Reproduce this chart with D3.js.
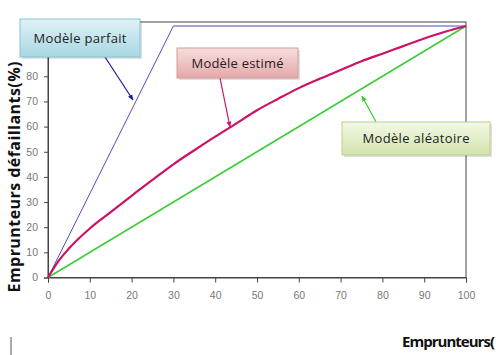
<!DOCTYPE html>
<html>
<head>
<meta charset="utf-8">
<script src="https://cdn.jsdelivr.net/npm/d3@7"></script>
<style>
  html, body { margin: 0; padding: 0; background: #fff; }
  svg { display: block; }
</style>
</head>
<body>
<div id="chart"></div>
<script>
// Données (courbe CAP)
const pctBorrowers = [0, 2.5, 5, 10, 15, 20, 25, 30, 35, 40, 45, 50, 55, 60, 65, 70, 75, 80, 85, 90, 95, 100];
const estimatedModel = [0, 6.5, 11.5, 19.5, 26, 32.5, 38.8, 45, 50.6, 56, 61.2, 66.5, 71, 75.3, 79, 82.5, 86, 89, 92, 95, 97.7, 100];
const perfectX = [0, 30, 100];
const perfectY = [0, 100, 100];
const randomX = [0, 100];
const randomY = [0, 100];
const tickValues = [0, 10, 20, 30, 40, 50, 60, 70, 80, 90, 100];

const width = 496, height = 355;
const svg = d3.select("#chart").append("svg")
    .attr("width", width)
    .attr("height", height);

const x = d3.scaleLinear().domain([0, 100]).range([48, 466]);
const y = d3.scaleLinear().domain([0, 100]).range([277.5, 26]);

const defs = svg.append("defs");
function grad(id, top, bottom) {
    const g = defs.append("linearGradient").attr("id", id)
        .attr("x1", 0).attr("y1", 0).attr("x2", 0).attr("y2", 1);
    g.append("stop").attr("offset", "0%").attr("stop-color", top);
    g.append("stop").attr("offset", "100%").attr("stop-color", bottom);
}
grad("gBlue", "#dff2f6", "#a8d7e2");
grad("gPink", "#f8dede", "#e4a8a8");
grad("gGreen", "#f3f8e6", "#d2e4ad");

function marker(id, color) {
    defs.append("marker").attr("id", id)
        .attr("viewBox", "0 0 10 10").attr("refX", 9).attr("refY", 5)
        .attr("markerWidth", 5).attr("markerHeight", 5)
        .attr("orient", "auto")
        .append("path").attr("d", "M0,1 L10,5 L0,9 Z").attr("fill", color);
}
marker("aBlue", "#1c1c8e");
marker("aPink", "#cc1166");
marker("aGreen", "#33cc33");

// cadre
svg.append("rect")
    .attr("x", x(0)).attr("y", 22)
    .attr("width", x(100) - x(0)).attr("height", y(0) - 22)
    .attr("fill", "none").attr("stroke", "#444").attr("stroke-width", 1);

// axes
const xAxis = svg.append("g")
    .attr("transform", `translate(0,${y(0)})`)
    .call(d3.axisBottom(x).tickValues(tickValues).tickSize(5).tickPadding(9));
const yAxis = svg.append("g")
    .attr("transform", `translate(${x(0)},0)`)
    .call(d3.axisLeft(y).tickValues(tickValues).tickSize(4).tickPadding(6));
[xAxis, yAxis].forEach(a => {
    a.select(".domain").attr("stroke", "#444");
    a.selectAll(".tick line").attr("stroke", "#444");
    a.selectAll(".tick text")
        .attr("fill", "#777")
        .style("font-family", "'Liberation Sans', Arial, sans-serif")
        .style("font-size", "10.5px");
});

const line = d3.line().x(d => x(d[0])).y(d => y(d[1]));

// modèle parfait
svg.append("path")
    .attr("d", line(perfectX.slice(1).map((v, i) => [v, perfectY[i + 1]])))
    .attr("fill", "none").attr("stroke", "#a4a4e4").attr("stroke-width", 2.2);
svg.append("path")
    .attr("d", line(perfectX.slice(0, 2).map((v, i) => [v, perfectY[i]])))
    .attr("fill", "none").attr("stroke", "#5050b8").attr("stroke-width", 1);

// modèle aléatoire
svg.append("path")
    .attr("d", line(randomX.map((v, i) => [v, randomY[i]])))
    .attr("fill", "none").attr("stroke", "#3ccc3c").attr("stroke-width", 1.6);

// modèle estimé
svg.append("path")
    .attr("d", line.curve(d3.curveMonotoneX)(pctBorrowers.map((v, i) => [v, estimatedModel[i]])))
    .attr("fill", "none").attr("stroke", "#cc1166").attr("stroke-width", 2.2);

// bulles
function callout(bx, by, bw, bh, fill, stroke, label, tw, ax1, ay1, ax2, ay2, color, mk) {
    svg.append("line")
        .attr("x1", ax1).attr("y1", ay1).attr("x2", ax2).attr("y2", ay2)
        .attr("stroke", color).attr("stroke-width", 1.2)
        .attr("marker-end", `url(#${mk})`);
    svg.append("rect")
        .attr("x", bx + 2).attr("y", by + 2).attr("width", bw).attr("height", bh)
        .attr("fill", "#000").attr("opacity", 0.12);
    svg.append("rect")
        .attr("x", bx).attr("y", by).attr("width", bw).attr("height", bh)
        .attr("fill", fill).attr("stroke", stroke).attr("stroke-width", 1);
    svg.append("text")
        .attr("x", bx + bw / 2).attr("y", by + bh / 2 + 4.5)
        .attr("text-anchor", "middle")
        .attr("fill", "#222")
        .attr("textLength", tw)
        .attr("lengthAdjust", "spacing")
        .style("font-family", "'Open Sans', sans-serif")
        .style("font-size", "13px")
        .text(label);
}
callout(20, 19, 120, 38, "url(#gBlue)", "#86c3d3", "Modèle parfait", 93, 105, 57, 133, 100, "#1c1c8e", "aBlue");
callout(177, 48, 121, 30, "url(#gPink)", "#d39a9a", "Modèle estimé", 92, 220, 78, 230, 127, "#cc1166", "aPink");
callout(342, 122, 148, 33, "url(#gGreen)", "#b8cf8c", "Modèle aléatoire", 107, 376, 122, 362, 96, "#33cc33", "aGreen");

// titres des axes
svg.append("text")
    .attr("transform", "translate(20,177) rotate(-90)")
    .attr("text-anchor", "middle")
    .attr("textLength", 231)
    .attr("lengthAdjust", "spacing")
    .style("font-family", "'Open Sans', sans-serif")
    .style("font-weight", "bold")
    .style("font-size", "16px")
    .attr("fill", "#111")
    .text("Emprunteurs  défaillants(%)");

svg.append("text")
    .attr("x", 402).attr("y", 347)
    .attr("textLength", 93)
    .attr("lengthAdjust", "spacing")
    .style("font-family", "'Open Sans', sans-serif")
    .style("font-weight", "bold")
    .style("font-size", "15px")
    .attr("fill", "#111")
    .text("Emprunteurs(");

svg.append("line")
    .attr("x1", 11).attr("y1", 337).attr("x2", 11).attr("y2", 355)
    .attr("stroke", "#555").attr("stroke-width", 1);
</script>
</body>
</html>
